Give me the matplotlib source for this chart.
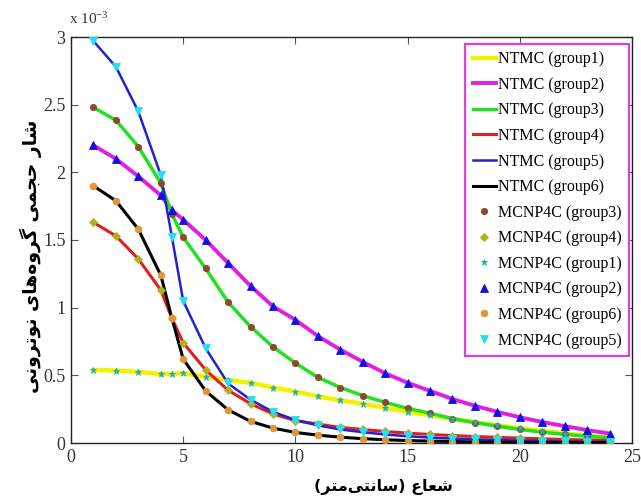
import matplotlib
matplotlib.use("Agg")
import matplotlib.pyplot as plt

plt.rcParams['font.family'] = ['Liberation Serif', 'DejaVu Serif']
plt.rcParams['mathtext.fontset'] = 'stix'

# ---------------- data (values in units of 1e-3) ----------------
radius = [1, 2, 3, 4, 4.5, 5, 6, 7, 8, 9, 10, 11, 12, 13, 14, 15, 16, 17, 18, 19, 20, 21, 22, 23, 24]
group1 = [0.54, 0.535, 0.525, 0.51, 0.51, 0.515, 0.49, 0.465, 0.445, 0.41, 0.38, 0.345, 0.315, 0.29, 0.26,
          0.23, 0.205, 0.18, 0.155, 0.13, 0.11, 0.09, 0.07, 0.055, 0.04]
group2 = [2.20, 2.10, 1.97, 1.83, 1.72, 1.65, 1.50, 1.33, 1.16, 1.01, 0.91, 0.79, 0.69, 0.60, 0.515,
          0.445, 0.385, 0.325, 0.275, 0.23, 0.19, 0.155, 0.125, 0.095, 0.07]
group3 = [2.48, 2.385, 2.19, 1.92, 1.69, 1.52, 1.29, 1.04, 0.86, 0.71, 0.59, 0.485, 0.41, 0.35, 0.30,
          0.256, 0.22, 0.18, 0.15, 0.125, 0.10, 0.08, 0.064, 0.05, 0.04]
group4 = [1.63, 1.53, 1.36, 1.13, 0.92, 0.74, 0.54, 0.39, 0.29, 0.215, 0.165, 0.14, 0.115, 0.10, 0.085,
          0.073, 0.063, 0.055, 0.048, 0.042, 0.036, 0.031, 0.026, 0.022, 0.018]
group5 = [2.97, 2.78, 2.45, 1.98, 1.52, 1.05, 0.70, 0.44, 0.32, 0.23, 0.17, 0.13, 0.10, 0.08, 0.063,
          0.05, 0.04, 0.033, 0.027, 0.022, 0.018, 0.015, 0.012, 0.01, 0.008]
group6 = [1.90, 1.79, 1.58, 1.24, 0.92, 0.62, 0.385, 0.245, 0.16, 0.11, 0.078, 0.058, 0.043, 0.032, 0.024,
          0.018, 0.014, 0.011, 0.008, 0.006, 0.005, 0.004, 0.003, 0.002, 0.002]

x_ticks = [0, 5, 10, 15, 20, 25]
y_ticks = [0, 0.5, 1, 1.5, 2, 2.5, 3]
y_ticklabels = ['0', '0.5', '1', '1.5', '2', '2.5', '3']
xlabel_text = 'شعاع (سانتی\u200cمتر)'
ylabel_text = 'شار حجمی گروه\u200cهای نوترونی'

# ---------------- simple Persian shaping (presentation forms + RTL) ----------------
FORMS = {
    'ا': ('\uFE8D', '\uFE8E', None, None),
    'ر': ('\uFEAD', '\uFEAE', None, None),
    'و': ('\uFEED', '\uFEEE', None, None),
    'ش': ('\uFEB5', '\uFEB6', '\uFEB7', '\uFEB8'),
    'ع': ('\uFEC9', '\uFECA', '\uFECB', '\uFECC'),
    'س': ('\uFEB1', '\uFEB2', '\uFEB3', '\uFEB4'),
    'ن': ('\uFEE5', '\uFEE6', '\uFEE7', '\uFEE8'),
    'ت': ('\uFE95', '\uFE96', '\uFE97', '\uFE98'),
    'ی': ('\uFBFC', '\uFBFD', '\uFBFE', '\uFBFF'),
    'م': ('\uFEE1', '\uFEE2', '\uFEE3', '\uFEE4'),
    'ح': ('\uFEA1', '\uFEA2', '\uFEA3', '\uFEA4'),
    'ج': ('\uFE9D', '\uFE9E', '\uFE9F', '\uFEA0'),
    'گ': ('\uFB92', '\uFB93', '\uFB94', '\uFB95'),
    'ه': ('\uFEE9', '\uFEEA', '\uFEEB', '\uFEEC'),
}


def shape_rtl(s):
    chars = list(s)
    out = []
    for i, c in enumerate(chars):
        if c not in FORMS:
            if c != '\u200c':
                out.append(c)
            continue
        prev = chars[i - 1] if i > 0 else None
        nxt = chars[i + 1] if i + 1 < len(chars) else None
        jp = prev in FORMS and FORMS[prev][2] is not None
        jn = FORMS[c][2] is not None and nxt in FORMS
        iso, fin, ini, med = FORMS[c]
        if jp and jn:
            out.append(med)
        elif jp:
            out.append(fin)
        elif jn:
            out.append(ini)
        else:
            out.append(iso)
    vis = ''.join(reversed(out))
    return vis.translate(str.maketrans('()', ')('))


# ---------------- figure ----------------
W, H = 641, 504
fig = plt.figure(figsize=(W / 100, H / 100), dpi=100)
L, R, T, B = 71, 632, 37, 443
ax = fig.add_axes([L / W, 1 - B / H, (R - L) / W, (B - T) / H])

line_specs = [
    (group1, '#F2F200', 3.2, 'NTMC (group1)'),
    (group2, '#E020E0', 2.8, 'NTMC (group2)'),
    (group3, '#22E022', 2.5, 'NTMC (group3)'),
    (group4, '#E02020', 2.2, 'NTMC (group4)'),
    (group5, '#2222CC', 1.8, 'NTMC (group5)'),
    (group6, '#000000', 2.2, 'NTMC (group6)'),
]
line_handles = []
for ys, col, lw, lab in line_specs:
    h, = ax.plot(radius, ys, color=col, lw=lw, label=lab, zorder=2)
    line_handles.append(h)

marker_specs = [
    (group3, 'o', '#8B4A2B', 4.5, 'MCNP4C (group3)'),
    (group4, 'D', '#B0B020', 3.8, 'MCNP4C (group4)'),
    (group1, '*', '#20B0B0', 4.5, 'MCNP4C (group1)'),
    (group2, '^', '#1010E0', 6.0, 'MCNP4C (group2)'),
    (group6, 'o', '#E0953A', 4.8, 'MCNP4C (group6)'),
    (group5, 'v', '#22E0F0', 6.0, 'MCNP4C (group5)'),
]
marker_handles = []
for ys, mk, col, ms, lab in marker_specs:
    h, = ax.plot(radius, ys, linestyle='none', marker=mk, color=col, ms=ms,
                 markeredgewidth=0.6, label=lab, zorder=3)
    marker_handles.append(h)

ax.set_xlim(0, 25)
ax.set_ylim(0, 3)
ax.set_xticks(x_ticks)
ax.set_xticklabels([str(v) for v in x_ticks])
ax.set_yticks(y_ticks)
ax.set_yticklabels(y_ticklabels)
ax.tick_params(direction='in', top=True, right=True, length=5, width=0.8,
               labelsize=13, color='#555555', labelcolor='#333333', pad=4)
for sp in ax.spines.values():
    sp.set_linewidth(1.0)
    sp.set_color('#222222')

leg = ax.legend(handles=line_handles + marker_handles, loc='upper right',
                bbox_to_anchor=(629 / W, 1 - 44 / H), bbox_transform=fig.transFigure,
                borderaxespad=0, fontsize=11.5, frameon=True, fancybox=False,
                edgecolor='#E040E0', framealpha=1, handlelength=1.45,
                handletextpad=0.15, labelspacing=0.6, borderpad=0.45,
                numpoints=1)
leg.get_frame().set_linewidth(1.6)

# MATLAB-style exponent label
fig.text(69 / W, 1 - 24 / H, r'x 10$^{\mathregular{-3}}$', fontsize=11, ha='left',
         va='baseline', color='#333333')

# Persian axis labels
fig.text(383 / W, 1 - 487 / H, shape_rtl(xlabel_text), family=['DejaVu Sans'],
         fontweight='bold', fontsize=11.5, ha='center', va='center')
fig.text(31 / W, 1 - 256 / H, shape_rtl(ylabel_text), family=['DejaVu Sans'],
         fontweight='bold', fontsize=13.5, ha='center', va='center', rotation=90)

fig.savefig('out.png', dpi=100)
